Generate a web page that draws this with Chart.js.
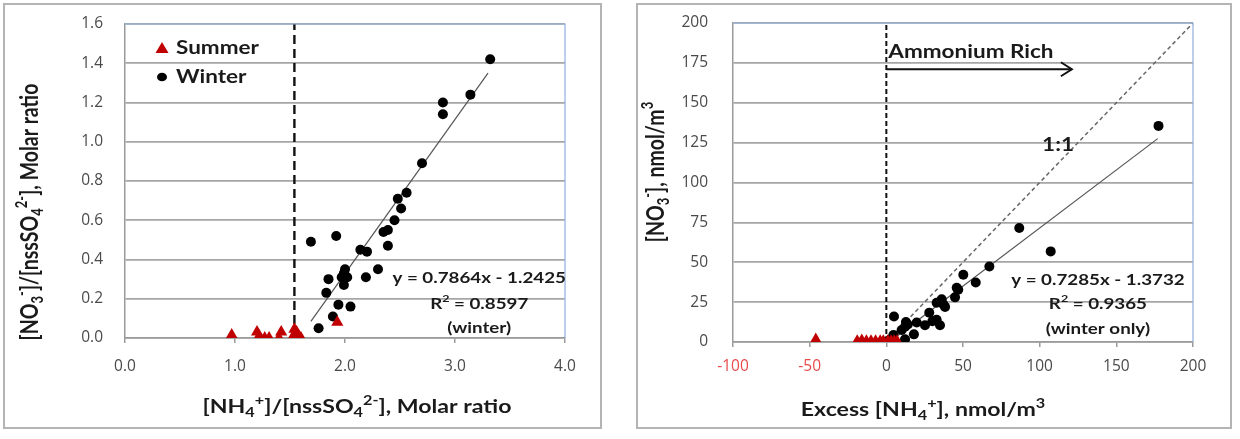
<!DOCTYPE html>
<html lang="en">
<head>
<meta charset="UTF-8">
<title>Nitrate vs ammonium</title>
<script src="https://cdn.jsdelivr.net/npm/chart.js"></script>
<style>
    body { margin: 0; background: #fff; width: 1240px; height: 439px; position: relative; overflow: hidden; }
    .panel { position: absolute; border: 2px solid #b4b4b4; background: #fff; }
    #p1 { left: 3px; top: 3px; width: 595px; height: 422px; }
    #p2 { left: 636px; top: 3px; width: 592px; height: 422px; }
    canvas { position: absolute; left: 0; top: 0; }
</style>
</head>
<body>
<div class="panel" id="p1"><canvas id="ratioChart" width="595" height="422"></canvas></div>
<div class="panel" id="p2"><canvas id="excessChart" width="592" height="422"></canvas></div>

<script>
// ---- left panel: molar ratios ----
const ratioTicksX = [0, 1, 2, 3, 4];
const ratioTicksY = [0, 0.2, 0.4, 0.6, 0.8, 1.0, 1.2, 1.4, 1.6];
const summerRatioX = [0.97, 1.20, 1.22, 1.27, 1.31, 1.40, 1.42, 1.52, 1.54, 1.56, 1.58, 1.60, 1.93];
const summerRatioY = [0.015, 0.03, 0.01, 0.0, 0.0, 0.0, 0.03, 0.0, 0.045, 0.03, 0.01, 0.0, 0.08];
const winterRatioX = [1.69, 1.92, 2.14, 2.20, 2.30, 2.19, 2.00, 1.99, 1.97, 2.02, 1.85, 1.99, 1.83, 1.94, 2.05,
                      1.89, 1.76, 2.35, 2.39, 2.39, 2.45, 2.51, 2.48, 2.56, 2.70, 2.89, 2.89, 3.14, 3.32];
const winterRatioY = [0.49, 0.52, 0.45, 0.44, 0.35, 0.31, 0.35, 0.33, 0.31, 0.31, 0.30, 0.27, 0.23, 0.17, 0.16,
                      0.11, 0.05, 0.54, 0.55, 0.47, 0.60, 0.66, 0.71, 0.74, 0.89, 1.14, 1.20, 1.24, 1.42];
const ratioFitX = [1.69, 3.30];
const ratioFitY = [0.085, 1.35];
const ratioDividerX = [1.54, 1.54];
const ratioDividerY = [0, 1.6];

// ---- right panel: excess ammonium ----
const excessTicksX = [-100, -50, 0, 50, 100, 150, 200];
const excessTicksY = [0, 25, 50, 75, 100, 125, 150, 175, 200];
const summerExcessX = [-46, -19, -16, -13, -10, -7, -4, -2, 1, 3, 5, 7];
const summerExcessY = [1.5, 0.5, 1, 0.5, 0.5, 0.5, 0.5, 0.5, 0.5, 0.5, 0.5, 0.5];
const winterExcessX = [177.5, 86.7, 107.2, 67.2, 50.2, 58.3, 45.9, 46.9, 44.8, 36.1, 32.8, 37.2, 38.3, 28.0, 32.8,
                       35.0, 25.2, 19.8, 12.8, 12.2, 10.0, 5.0, 18.0, 12.2, 4.6, 2.4, 0.5, 14.0, 30.0];
const winterExcessY = [135.5, 71.5, 56.8, 47.3, 42.2, 37.3, 34.0, 32.8, 28.0, 26.8, 24.6, 23.6, 22.0, 18.4, 14.0,
                       10.5, 10.5, 12.2, 12.5, 9.6, 7.5, 16.0, 4.8, 1.7, 4.4, 1.5, 0.5, 11.0, 13.0];
const excessFitX = [2, 177];
const excessFitY = [0.1, 127.5];
const oneToOneX = [0, 200];
const oneToOneY = [0, 200];
const excessDividerX = [0, 0];
const excessDividerY = [0, 200];
const arrowX = [0, 121];
const arrowY = [171, 171];

const FONT = 'Lato, "Open Sans", sans-serif';
const TICK_FONT = '"Open Sans", sans-serif';
const SX = 1.25;   // source picture is stretched sideways
const pts = (xs, ys) => xs.map((x, i) => ({ x: x, y: ys[i] }));

// rich text with sub / superscripts, parts = [[text, mode], ...]
function drawRich(ctx, parts, x, y, size, rotate, align) {
    const small = Math.round(size * 0.68);
    const fontFor = m => 'bold ' + (m ? small : size) + 'px ' + FONT;
    let total = 0;
    parts.forEach(p => { ctx.font = fontFor(p[1]); total += ctx.measureText(p[0]).width; });
    ctx.save();
    ctx.translate(x, y);
    ctx.scale(SX, 1);
    if (rotate) ctx.rotate(-Math.PI / 2);
    ctx.fillStyle = '#1a1a1a';
    ctx.textBaseline = 'middle';
    ctx.textAlign = 'left';
    let cx = align === 'left' ? 0 : -total / 2;
    parts.forEach(p => {
        ctx.font = fontFor(p[1]);
        const dy = p[1] === 'sub' ? size * 0.3 : p[1] === 'sup' ? -size * 0.35 : 0;
        ctx.fillText(p[0], cx, dy);
        cx += ctx.measureText(p[0]).width;
    });
    ctx.restore();
}

// draws axis titles, notes, legend, frame
const extrasPlugin = {
    id: 'extras',
    afterDraw(chart) {
        const opts = chart.options.plugins.extras;
        const ctx = chart.ctx;
        const a = chart.chartArea;
        const xs = chart.scales.x, ys = chart.scales.y;
        // light blue top/right frame
        ctx.save();
        ctx.strokeStyle = '#8fb0dc';
        ctx.lineWidth = 1.2;
        ctx.beginPath();
        ctx.moveTo(a.left, a.top); ctx.lineTo(a.right, a.top); ctx.lineTo(a.right, a.bottom);
        ctx.stroke();
        ctx.restore();

        opts.titles.forEach(t => drawRich(ctx, t.parts, t.x, t.y, t.size, t.rotate));

        opts.notes.forEach(n => {
            n.lines.forEach((line, i) => {
                const px = xs.getPixelForValue(n.x);
                const py = ys.getPixelForValue(n.y[i]);
                const parts = Array.isArray(line) ? line : [[line, '']];
                drawRich(ctx, parts, px, py, n.size, false, n.align);
            });
        });

        if (opts.arrow) {
            const px = xs.getPixelForValue(opts.arrow.x);
            const py = ys.getPixelForValue(opts.arrow.y);
            ctx.save();
            ctx.strokeStyle = '#111';
            ctx.lineWidth = 2;
            ctx.beginPath();
            ctx.moveTo(px - 11, py - 7); ctx.lineTo(px, py); ctx.lineTo(px - 11, py + 7);
            ctx.stroke();
            ctx.restore();
        }

        if (opts.legend) {
            const lg = opts.legend;
            ctx.save();
            ctx.fillStyle = '#c00000';
            ctx.beginPath();
            ctx.moveTo(lg.x, lg.y1 - 6); ctx.lineTo(lg.x + 6.5, lg.y1 + 5); ctx.lineTo(lg.x - 6.5, lg.y1 + 5);
            ctx.closePath(); ctx.fill();
            ctx.fillStyle = '#000';
            ctx.beginPath(); ctx.ellipse(lg.x, lg.y2, 5, 4.3, 0, 0, Math.PI * 2); ctx.fill();
            ctx.restore();
            drawRich(ctx, [['Summer', '']], lg.x + 14, lg.y1, 18, false, 'left');
            drawRich(ctx, [['Winter', '']], lg.x + 14, lg.y2, 18, false, 'left');
        }
    }
};

function makeOptions(cfg) {
    return {
        responsive: false,
        animation: false,
        layout: { autoPadding: false, padding: { top: cfg.padTop, right: cfg.padRight, left: 0, bottom: 0 } },
        plugins: { legend: { display: false }, tooltip: { enabled: false }, extras: cfg.extras },
        scales: {
            x: {
                type: 'linear', min: cfg.xMin, max: cfg.xMax,
                afterBuildTicks: s => { s.ticks = cfg.xTicks.map(v => ({ value: v })); },
                afterFit: s => { s.height = cfg.xHeight; },
                grid: { drawOnChartArea: false, drawTicks: true, tickLength: 5, color: '#9a9a9a', lineWidth: 1.5 },
                border: { color: '#9a9a9a', width: 1.5 },
                ticks: {
                    padding: cfg.xPad, font: { family: TICK_FONT, size: 15.5 },
                    color: c => (c.tick && c.tick.value < 0) ? '#e84a4a' : '#4a4a4a',
                    callback: cfg.xFormat
                }
            },
            y: {
                type: 'linear', min: cfg.yMin, max: cfg.yMax,
                afterBuildTicks: s => { s.ticks = cfg.yTicks.map(v => ({ value: v })); },
                afterFit: s => { s.width = cfg.yWidth; },
                // invisible tick stubs push the labels left without adding top padding
                grid: { drawTicks: true, tickLength: cfg.yGap, tickColor: 'rgba(0,0,0,0)', color: '#a6a6a6', lineWidth: 1.7 },
                border: { color: '#9a9a9a', width: 1.5 },
                ticks: { padding: 2, font: { family: TICK_FONT, size: 15.5 }, color: '#4a4a4a', callback: cfg.yFormat }
            }
        }
    };
}

function lineSet(xs, ys, color, width, dash, order) {
    return { type: 'scatter', data: pts(xs, ys), showLine: true, borderColor: color, borderWidth: width,
             borderDash: dash, pointRadius: 0, fill: false, order: order };
}
function pointSet(xs, ys, style, color, radius, order) {
    return { type: 'scatter', data: pts(xs, ys), pointStyle: style, pointRadius: radius,
             backgroundColor: color, borderColor: color, borderWidth: 0, order: order };
}

new Chart(document.getElementById('ratioChart'), {
    type: 'scatter',
    data: {
        datasets: [
            pointSet(winterRatioX, winterRatioY, 'circle', '#000', 5, 1),
            pointSet(summerRatioX, summerRatioY, 'triangle', '#c00000', 7, 0),
            lineSet(ratioFitX, ratioFitY, '#555', 1.2, [], 3),
            lineSet(ratioDividerX, ratioDividerY, '#111', 2.4, [9, 5], 4)
        ]
    },
    options: makeOptions({
        xMin: 0, xMax: 4, yMin: 0, yMax: 1.6,
        xTicks: ratioTicksX, yTicks: ratioTicksY,
        xFormat: v => v.toFixed(1), yFormat: v => v.toFixed(1),
        padTop: 19, padRight: 35, xHeight: 89, yWidth: 120, yGap: 20, xPad: 14,
        extras: {
            titles: [
                { size: 18.5, parts: [['[NH', ''], ['4', 'sub'], ['+', 'sup'], [']/[nssSO', ''], ['4', 'sub'], ['2-', 'sup'], ['], Molar ratio', '']], x: 352, y: 402 },
                { size: 19.5, parts: [['[NO', ''], ['3', 'sub'], ['-', 'sup'], [']/[nssSO', ''], ['4', 'sub'], ['2-', 'sup'], ['], Molar ratio', '']], x: 25, y: 207, rotate: true }
            ],
            notes: [
                { x: 3.22, y: [0.306, 0.173, 0.051], size: 15,
                  lines: ['y = 0.7864x - 1.2425', [['R', ''], ['2', 'sup'], [' = 0.8597', '']], '(winter)'] }
            ],
            legend: { x: 157, y1: 43, y2: 72 }
        }
    }),
    plugins: [extrasPlugin]
});

new Chart(document.getElementById('excessChart'), {
    type: 'scatter',
    data: {
        datasets: [
            pointSet(winterExcessX, winterExcessY, 'circle', '#000', 5, 1),
            pointSet(summerExcessX, summerExcessY, 'triangle', '#c00000', 7, 0),
            lineSet(excessFitX, excessFitY, '#555', 1.2, [], 3),
            lineSet(oneToOneX, oneToOneY, '#666', 1.5, [4, 3], 3),
            lineSet(excessDividerX, excessDividerY, '#111', 2, [5, 3], 4),
            lineSet(arrowX, arrowY, '#111', 2, [], 4)
        ]
    },
    options: makeOptions({
        xMin: -100, xMax: 200, yMin: 0, yMax: 200,
        xTicks: excessTicksX, yTicks: excessTicksY,
        xFormat: v => String(v), yFormat: v => String(v),
        padTop: 18, padRight: 37, xHeight: 85, yWidth: 95, yGap: 23, xPad: 10,
        extras: {
            titles: [
                { size: 18.5, parts: [['Excess [NH', ''], ['4', 'sub'], ['+', 'sup'], ['], nmol/m', ''], ['3', 'sup']], x: 285, y: 405 },
                { size: 19.5, parts: [['[NO', ''], ['3', 'sub'], ['-', 'sup'], ['], nmol/m', ''], ['3', 'sup']], x: 18, y: 167, rotate: true }
            ],
            notes: [
                { x: 138, y: [38.9, 23.8, 8.2], size: 15,
                  lines: ['y = 0.7285x - 1.3732', [['R', ''], ['2', 'sup'], [' = 0.9365', '']], '(winter only)'] },
                { x: 112, y: [123.5], size: 18, lines: ['1:1'] },
                { x: 1.3, y: [181.5], size: 18, align: 'left', lines: ['Ammonium Rich'] }
            ],
            arrow: { x: 121, y: 171 }
        }
    }),
    plugins: [extrasPlugin]
});
</script>
</body>
</html>
